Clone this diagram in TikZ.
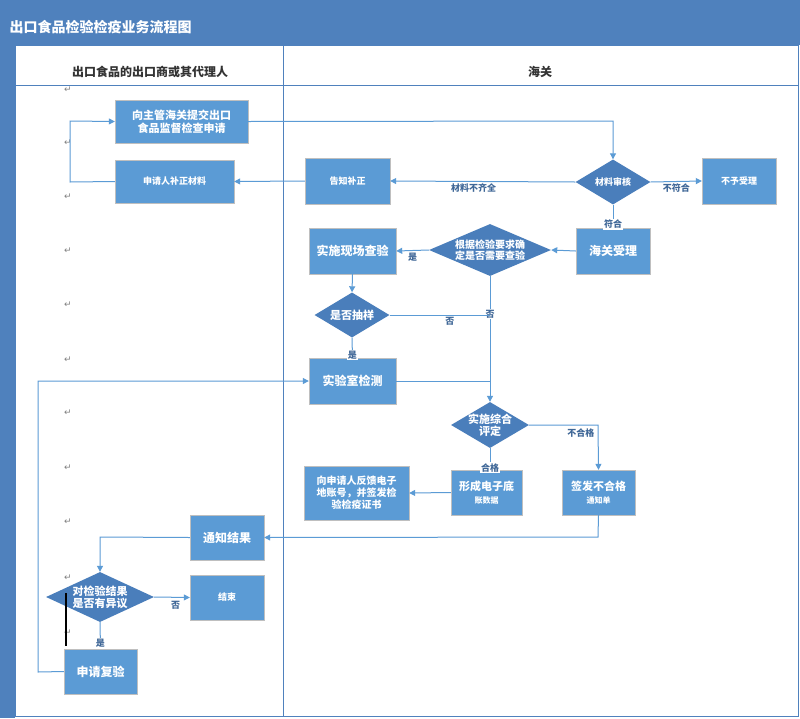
\documentclass[tikz,border=0pt]{standalone}
\usepackage{fontspec}
\setmainfont{Noto Sans CJK SC}
\newfontfamily\dvs{DejaVu Sans}
\usetikzlibrary{shapes.geometric,arrows.meta}
\definecolor{bar}{RGB}{79,129,189}
\definecolor{boxc}{RGB}{91,155,213}
\definecolor{dia}{RGB}{74,126,187}
\definecolor{ln}{RGB}{91,155,213}
\begin{document}
\begin{tikzpicture}[x=1pt,y=-1pt,
 box/.style={draw=gray!50,fill=boxc,text=white,font=\bfseries\fontsize{12}{13}\selectfont,align=center,inner sep=1pt},
 sbox/.style={box,font=\bfseries\fontsize{9}{10}\selectfont},
 dmd/.style={diamond,fill=dia,inner sep=0pt},
 dt/.style={text=white,font=\bfseries\fontsize{11}{12}\selectfont,align=center},
 ar/.style={draw=ln,line width=1pt,-{Triangle[length=6pt,width=6pt]}},
 l/.style={draw=ln,line width=1pt},
 lab/.style={text=bar!80!black,font=\bfseries\fontsize{9}{10}\selectfont,fill=white,inner sep=1pt},
 ret/.style={text=gray,font=\dvs\fontsize{9}{9}\selectfont}]
\useasboundingbox (0,0) rectangle (800,718);
\fill[white] (0,0) rectangle (800,718);
\fill[bar] (0,0) rectangle (800,45);
\node[anchor=west,text=white,font=\bfseries\fontsize{14}{15}\selectfont] (title) at (6,27) {出口食品检验检疫业务流程图};
\fill[bar] (0,45) rectangle (15,718);
\draw[bar,line width=1pt] (15,45) rectangle (798,716);
\draw[bar,line width=0.8pt] (15,85) -- (798,85);
\draw[bar,line width=0.8pt] (283,45) -- (283,716);
\node[font=\bfseries\fontsize{12}{13}\selectfont,text=black!80] (h1) at (150,72) {出口食品的出口商或其代理人};
\node[font=\bfseries\fontsize{12}{13}\selectfont,text=black!80] (h2) at (540,72) {海关};
\foreach \yy [count=\i] in {90,143,197,251,305,360,413,468,522,578,633}
 \node[ret] (r\i) at (68,\yy) {↵};
% nodes
\node[box,minimum width=133,minimum height=43,font=\bfseries\fontsize{11}{13}\selectfont] (submit) at (181.5,121.5) {向主管海关提交出口\\食品监督检查申请};
\node[sbox,minimum width=119,minimum height=43] (fix) at (174.5,181.5) {申请人补正材料};
\node[sbox,minimum width=85,minimum height=46] (notify) at (347.5,181) {告知补正};
\node[dmd,minimum width=75,minimum height=45,label={[dt,font=\bfseries\fontsize{9}{10}\selectfont]center:材料审核}] (check) at (613,182) {};
\node[sbox,minimum width=74,minimum height=46] (reject) at (739,181) {不予受理};
\node[box,minimum width=74,minimum height=46] (accept) at (613,251) {海关受理};
\node[dmd,minimum width=122,minimum height=52,label={[dt,font=\bfseries\fontsize{10}{11}\selectfont]center:根据检验要求确\\定是否需要查验}] (need) at (490,250) {};
\node[box,minimum width=87,minimum height=46] (site) at (352.5,251) {实施现场查验};
\node[dmd,minimum width=75,minimum height=45,label={[dt]center:是否抽样}] (sample) at (352,315) {};
\node[box,minimum width=87,minimum height=46] (lab) at (352.5,381) {实验室检测};
\node[dmd,minimum width=78,minimum height=46,label={[dt]center:实施综合\\评定}] (eval) at (490,425) {};
\node[box,minimum width=71,minimum height=45,font=\bfseries\fontsize{11}{13}\selectfont] (ebook) at (486.5,492.5) {形成电子底\\{\fontsize{8}{9}\selectfont 账数据}};
\node[box,minimum width=73,minimum height=45,font=\bfseries\fontsize{11}{13}\selectfont] (fail) at (598.5,492.5) {签发不合格\\{\fontsize{8}{9}\selectfont 通知单}};
\node[box,minimum width=105,minimum height=54,font=\bfseries\fontsize{10}{12}\selectfont] (cert) at (356.5,493) {向申请人反馈电子\\地账号，并签发检\\验检疫证书};
\node[box,minimum width=74,minimum height=45] (result) at (227,537.5) {通知结果};
\node[dmd,minimum width=108,minimum height=50,label={[dt]center:对检验结果\\是否有异议}] (object) at (100,597) {};
\node[sbox,minimum width=74,minimum height=45] (end) at (227,597.5) {结束};
\node[box,minimum width=73,minimum height=45] (recheck) at (100.5,671.5) {申请复验};
\coordinate (c1) at (613,121);
\coordinate (c2) at (70,182);
\coordinate (c3) at (70,121);
\coordinate (j1) at (490,315);
\coordinate (j2) at (490,381);
\coordinate (c4) at (598,425);
\coordinate (c5) at (598,537);
\coordinate (c6) at (100,537);
\coordinate (c7) at (38,672);
\coordinate (c8) at (38,381);
% connectors
\draw[ar] (submit.east) -- (c1) -- (check.north);
\draw[ar] (check.west) -- node[lab,pos=0.55,below=1pt]{材料不齐全} (notify.east);
\draw[ar] (check.east) -- node[lab,below=1pt]{不符合} (reject.west);
\draw[ar] (check.south) -- node[lab,pos=0.85]{符合} (accept.north);
\draw[ar] (notify.west) -- (fix.east);
\draw[ar] (fix.west) -- (c2) -- (c3) -- (submit.west);
\draw[ar] (accept.west) -- (need.east);
\draw[ar] (need.west) -- node[lab,below=1pt]{是} (site.east);
\draw[ar] (need.south) -- node[lab,pos=0.3]{否} (eval.north);
\draw[ar] (site.south) -- (sample.north);
\draw[l] (sample.east) -- node[lab,pos=0.6,below=1pt]{否} (j1);
\draw[ar] (sample.south) -- node[lab,pos=0.85]{是} (lab.north);
\draw[l] (lab.east) -- (j2);
\draw[ar] (eval.east) -- (c4) node[lab,pos=0.75,below=2pt]{不合格} -- (fail.north);
\draw[ar] (eval.south) -- node[lab,pos=0.9]{合格} (ebook.north -| eval.south);
\draw[ar] (ebook.west) -- (cert.east);
\draw[ar] (fail.south) -- (c5) -- (result.east);
\draw[ar] (result.west) -- (c6) -- (object.north);
\draw[ar] (object.east) -- node[lab,pos=0.6,below=2pt]{否} (end.west);
\draw[ar] (object.south) -- node[lab,pos=0.8]{是} (recheck.north);
\draw[ar] (recheck.west) -- (c7) -- (c8) -- (lab.west);
\draw[black,line width=2pt] (66,593) -- (66,646);
\end{tikzpicture}
\end{document}
